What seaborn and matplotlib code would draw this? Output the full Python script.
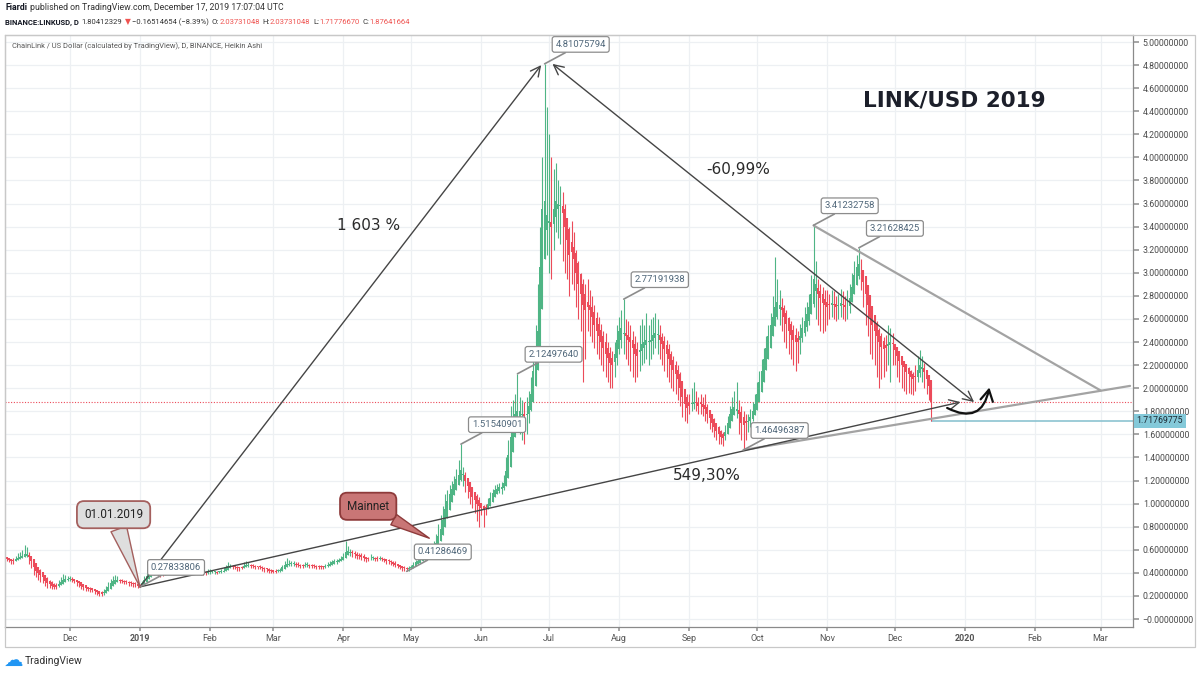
import matplotlib
matplotlib.use("Agg")
import matplotlib.dates as mdates
import matplotlib.pyplot as plt
import matplotlib.transforms as mtransforms
import numpy as np
import pandas as pd
import seaborn as sns
from matplotlib.patches import FancyArrowPatch, Rectangle

# Daily Heikin Ashi candles, BINANCE:LINKUSD, 2 Nov 2018 - 17 Dec 2019
START_DATE = "2018-11-02"
FIRST_OPEN = 0.54

ha_close = [
    # Nov 2018
    0.53, 0.52, 0.51, 0.50, 0.50, 0.52, 0.53, 0.54, 0.55, 0.56, 0.56,
    0.54, 0.50, 0.45, 0.42, 0.40, 0.38, 0.36, 0.33, 0.31, 0.30, 0.29, 0.28, 0.28,
    0.30, 0.32, 0.34, 0.35, 0.35,
    # Dec 2018
    0.35, 0.34, 0.33, 0.32, 0.31, 0.29, 0.28, 0.27, 0.26, 0.26, 0.25, 0.24, 0.23, 0.22,
    0.22, 0.23, 0.25, 0.28, 0.31, 0.33, 0.34, 0.34, 0.33, 0.33, 0.32, 0.32, 0.31, 0.31,
    0.30, 0.30, 0.29,
    # Jan 2019
    0.29, 0.31, 0.34, 0.37, 0.39, 0.40, 0.41, 0.41, 0.40, 0.39, 0.39, 0.40, 0.41, 0.42,
    0.43, 0.43, 0.42, 0.42, 0.43, 0.44, 0.44, 0.43, 0.43, 0.42, 0.42, 0.41, 0.41, 0.40,
    0.40, 0.40, 0.41,
    # Feb
    0.41, 0.41, 0.41, 0.40, 0.41, 0.41, 0.42, 0.44, 0.46, 0.46, 0.45, 0.45, 0.44, 0.44,
    0.44, 0.46, 0.47, 0.47, 0.46, 0.46, 0.45, 0.45, 0.45, 0.44, 0.43, 0.43, 0.42, 0.42,
    # Mar
    0.41, 0.41, 0.42, 0.42, 0.45, 0.47, 0.48, 0.48, 0.48, 0.48, 0.47, 0.47, 0.46, 0.46,
    0.47, 0.47, 0.46, 0.46, 0.46, 0.45, 0.45, 0.45, 0.45, 0.46, 0.47, 0.48, 0.49, 0.50,
    0.50, 0.51, 0.52,
    # Apr
    0.54, 0.58, 0.59, 0.58, 0.57, 0.56, 0.55, 0.55, 0.54, 0.53, 0.52, 0.52, 0.53, 0.53,
    0.52, 0.52, 0.53, 0.52, 0.51, 0.50, 0.50, 0.49, 0.48, 0.47, 0.46, 0.45, 0.44, 0.44,
    0.43, 0.44,
    # May
    0.45, 0.47, 0.49, 0.50, 0.51, 0.52, 0.53, 0.55, 0.57, 0.59, 0.62, 0.66, 0.72, 0.78,
    0.86, 0.95, 1.02, 1.08, 1.13, 1.17, 1.21, 1.25, 1.29, 1.25, 1.20, 1.15, 1.10, 1.06,
    1.03, 1.00, 0.98,
    # Jun
    0.96, 0.95, 0.96, 1.00, 1.05, 1.09, 1.12, 1.13, 1.14, 1.14, 1.18, 1.28, 1.42, 1.58,
    1.70, 1.78, 1.80, 1.80, 1.78, 1.76, 1.78, 1.85, 1.95, 2.15, 2.30, 2.50, 3.05, 3.55,
    3.62, 3.50,
    # Jul
    3.45, 3.40, 3.55, 3.62, 3.60, 3.58, 3.52, 3.40, 3.28, 3.15, 3.18, 3.12, 3.00, 2.90,
    2.82, 2.72, 2.68, 2.70, 2.68, 2.62, 2.55, 2.50, 2.45, 2.40, 2.35, 2.30, 2.26, 2.22,
    2.20, 2.30, 2.42,
    # Aug
    2.50, 2.52, 2.48, 2.45, 2.42, 2.40, 2.35, 2.30, 2.28, 2.33, 2.38, 2.40, 2.42, 2.40,
    2.42, 2.46, 2.48, 2.47, 2.42, 2.38, 2.34, 2.30, 2.25, 2.20, 2.16, 2.12, 2.08, 2.00,
    1.92, 1.86, 1.83,
    # Sep
    1.85, 1.87, 1.88, 1.87, 1.85, 1.86, 1.84, 1.82, 1.78, 1.74, 1.70, 1.66, 1.63, 1.60,
    1.58, 1.57, 1.62, 1.70, 1.78, 1.82, 1.84, 1.82, 1.78, 1.70, 1.68, 1.70, 1.72, 1.75,
    1.80, 1.86,
    # Oct
    1.95, 2.05, 2.15, 2.25, 2.35, 2.45, 2.55, 2.62, 2.70, 2.75, 2.72, 2.68, 2.62, 2.56,
    2.50, 2.46, 2.42, 2.40, 2.40, 2.45, 2.52, 2.58, 2.64, 2.70, 2.82, 2.95, 2.90, 2.82,
    2.78, 2.74, 2.72,
    # Nov
    2.70, 2.72, 2.74, 2.72, 2.70, 2.72, 2.74, 2.72, 2.70, 2.72, 2.78, 2.88, 2.98, 3.05,
    3.08, 3.02, 2.92, 2.82, 2.72, 2.62, 2.55, 2.50, 2.45, 2.40, 2.36, 2.34, 2.35, 2.38,
    2.40, 2.38,
    # Dec (to the 17th)
    2.33, 2.28, 2.24, 2.20, 2.18, 2.14, 2.12, 2.10, 2.08, 2.10, 2.16, 2.20, 2.18, 2.14,
    2.08, 2.02, 1.8764,
]

day_high = [
    # Nov 2018
    0.55, 0.54, 0.53, 0.52, 0.53, 0.55, 0.57, 0.58, 0.60, 0.64, 0.62,
    0.58, 0.55, 0.50, 0.47, 0.45, 0.43, 0.41, 0.38, 0.36, 0.34, 0.33, 0.31, 0.31,
    0.34, 0.36, 0.39, 0.38, 0.37,
    # Dec 2018
    0.37, 0.36, 0.35, 0.34, 0.33, 0.31, 0.30, 0.29, 0.28, 0.28, 0.27, 0.26, 0.25, 0.24,
    0.24, 0.26, 0.29, 0.32, 0.35, 0.37, 0.38, 0.37, 0.35, 0.35, 0.34, 0.34, 0.33, 0.33,
    0.32, 0.32, 0.31,
    # Jan 2019
    0.30, 0.33, 0.37, 0.40, 0.42, 0.43, 0.44, 0.43, 0.42, 0.41, 0.41, 0.42, 0.44, 0.47,
    0.52, 0.47, 0.45, 0.44, 0.47, 0.52, 0.48, 0.45, 0.45, 0.44, 0.44, 0.43, 0.43, 0.42,
    0.42, 0.42, 0.43,
    # Feb
    0.43, 0.42, 0.42, 0.42, 0.42, 0.43, 0.45, 0.47, 0.49, 0.48, 0.47, 0.46, 0.46, 0.45,
    0.46, 0.49, 0.50, 0.49, 0.48, 0.48, 0.47, 0.46, 0.47, 0.46, 0.45, 0.44, 0.44, 0.43,
    # Mar
    0.42, 0.43, 0.43, 0.44, 0.47, 0.50, 0.53, 0.51, 0.50, 0.50, 0.49, 0.49, 0.48, 0.48,
    0.49, 0.49, 0.48, 0.48, 0.48, 0.47, 0.47, 0.47, 0.46, 0.48, 0.49, 0.50, 0.51, 0.52,
    0.52, 0.53, 0.55,
    # Apr
    0.57, 0.68, 0.63, 0.61, 0.60, 0.59, 0.58, 0.57, 0.57, 0.56, 0.54, 0.54, 0.56, 0.55,
    0.54, 0.55, 0.55, 0.54, 0.53, 0.52, 0.52, 0.51, 0.50, 0.50, 0.48, 0.47, 0.46, 0.46,
    0.45, 0.46,
    # May
    0.47, 0.49, 0.51, 0.52, 0.53, 0.54, 0.56, 0.58, 0.60, 0.63, 0.68, 0.74, 0.82, 0.90,
    0.98, 1.08, 1.12, 1.16, 1.20, 1.24, 1.30, 1.38, 1.5154, 1.32, 1.27, 1.22, 1.18, 1.14,
    1.10, 1.08, 1.06,
    # Jun
    1.00, 0.99, 1.00, 1.05, 1.10, 1.13, 1.16, 1.17, 1.18, 1.19, 1.25, 1.40, 1.55, 1.85,
    1.90, 1.95, 2.125, 1.92, 1.90, 1.88, 1.92, 1.98, 2.10, 2.30, 2.55, 2.90, 3.40, 4.00,
    4.8108, 4.44,
    # Jul
    4.20, 4.00, 3.90, 3.95, 3.80, 3.75, 3.70, 3.60, 3.45, 3.40, 3.45, 3.35, 3.20, 3.10,
    3.00, 2.95, 2.90, 2.95, 2.85, 2.80, 2.72, 2.66, 2.62, 2.56, 2.50, 2.48, 2.40, 2.36,
    2.32, 2.40, 2.55,
    # Aug
    2.62, 2.68, 2.7719, 2.60, 2.58, 2.55, 2.50, 2.45, 2.40, 2.55, 2.60, 2.55, 2.65, 2.55,
    2.60, 2.62, 2.65, 2.60, 2.55, 2.48, 2.45, 2.42, 2.38, 2.32, 2.28, 2.24, 2.20, 2.14,
    2.05, 1.98, 1.95,
    # Sep
    1.95, 2.00, 2.05, 1.98, 1.92, 1.95, 1.92, 1.95, 1.86, 1.80, 1.78, 1.74, 1.70, 1.67,
    1.64, 1.62, 1.68, 1.76, 1.85, 1.92, 1.98, 2.05, 1.90, 1.85, 1.80, 1.78, 1.78, 1.82,
    1.88, 1.95,
    # Oct
    2.05, 2.15, 2.25, 2.35, 2.45, 2.55, 2.65, 2.80, 3.14, 2.95, 2.85, 2.78, 2.72, 2.68,
    2.62, 2.58, 2.55, 2.52, 2.50, 2.56, 2.62, 2.70, 2.75, 2.82, 2.98, 3.4123, 3.10, 2.95,
    2.90, 2.88, 2.85,
    # Nov
    2.85, 2.82, 2.85, 2.84, 2.80, 2.82, 2.86, 2.84, 2.80, 2.85, 2.90, 3.00, 3.10, 3.15,
    3.2163, 3.12, 3.02, 2.92, 2.82, 2.72, 2.65, 2.62, 2.58, 2.52, 2.48, 2.44, 2.46, 2.55,
    2.52, 2.48,
    # Dec
    2.38, 2.34, 2.30, 2.26, 2.24, 2.20, 2.18, 2.16, 2.14, 2.20, 2.28, 2.33, 2.28, 2.22,
    2.16, 2.10, 2.00,
]

day_low = [
    # Nov 2018
    0.51, 0.50, 0.49, 0.48, 0.48, 0.50, 0.51, 0.52, 0.53, 0.54, 0.54,
    0.48, 0.44, 0.38, 0.36, 0.34, 0.32, 0.31, 0.29, 0.27, 0.27, 0.26, 0.26, 0.26,
    0.28, 0.30, 0.32, 0.33, 0.33,
    # Dec 2018
    0.33, 0.32, 0.31, 0.29, 0.28, 0.26, 0.25, 0.24, 0.24, 0.23, 0.23, 0.22, 0.21, 0.20,
    0.20, 0.21, 0.23, 0.26, 0.29, 0.31, 0.32, 0.32, 0.31, 0.31, 0.30, 0.30, 0.29, 0.29,
    0.28, 0.28, 0.27,
    # Jan 2019
    0.2783, 0.29, 0.32, 0.35, 0.37, 0.38, 0.39, 0.39, 0.37, 0.36, 0.37, 0.38, 0.39, 0.40,
    0.41, 0.41, 0.40, 0.40, 0.41, 0.42, 0.42, 0.41, 0.41, 0.40, 0.40, 0.39, 0.39, 0.38,
    0.38, 0.38, 0.39,
    # Feb
    0.39, 0.40, 0.39, 0.39, 0.40, 0.40, 0.41, 0.42, 0.44, 0.44, 0.43, 0.43, 0.42, 0.42,
    0.43, 0.44, 0.45, 0.45, 0.44, 0.44, 0.43, 0.43, 0.43, 0.42, 0.41, 0.41, 0.40, 0.40,
    # Mar
    0.40, 0.40, 0.41, 0.41, 0.43, 0.45, 0.46, 0.46, 0.46, 0.46, 0.45, 0.45, 0.44, 0.44,
    0.45, 0.45, 0.44, 0.44, 0.44, 0.43, 0.43, 0.43, 0.43, 0.44, 0.45, 0.46, 0.47, 0.48,
    0.48, 0.49, 0.50,
    # Apr
    0.52, 0.54, 0.56, 0.55, 0.54, 0.53, 0.52, 0.52, 0.51, 0.50, 0.49, 0.50, 0.51, 0.51,
    0.50, 0.50, 0.51, 0.50, 0.49, 0.48, 0.48, 0.47, 0.46, 0.45, 0.44, 0.43, 0.42, 0.42,
    0.4129, 0.42,
    # May
    0.43, 0.45, 0.47, 0.48, 0.49, 0.50, 0.51, 0.53, 0.55, 0.57, 0.59, 0.62, 0.67, 0.72,
    0.80, 0.88, 0.95, 1.00, 1.05, 1.10, 1.14, 1.18, 1.20, 1.15, 1.10, 1.05, 1.00, 0.96,
    0.92, 0.85, 0.80,
    # Jun
    0.90, 0.80, 0.90, 0.95, 1.00, 1.04, 1.07, 1.08, 1.09, 1.08, 1.12, 1.20, 1.30, 1.45,
    1.55, 1.62, 1.65, 1.60, 1.55, 1.52, 1.60, 1.70, 1.80, 1.95, 2.10, 2.30, 2.60, 3.00,
    3.20, 3.15,
    # Jul
    3.00, 2.95, 3.20, 3.35, 3.30, 3.25, 3.10, 3.00, 2.95, 2.80, 2.90, 2.85, 2.70, 2.60,
    2.50, 2.05, 2.25, 2.50, 2.45, 2.40, 2.35, 2.30, 2.25, 2.20, 2.15, 2.10, 2.05, 2.00,
    2.00, 2.10, 2.20,
    # Aug
    2.30, 2.35, 2.30, 2.25, 2.20, 2.15, 2.10, 2.05, 2.10, 2.15, 2.20, 2.22, 2.25, 2.20,
    2.25, 2.30, 2.35, 2.30, 2.25, 2.20, 2.15, 2.10, 2.05, 2.00, 1.98, 1.95, 1.90, 1.85,
    1.75, 1.72, 1.70,
    # Sep
    1.78, 1.80, 1.82, 1.80, 1.78, 1.78, 1.76, 1.72, 1.70, 1.65, 1.62, 1.58, 1.55, 1.52,
    1.52, 1.50, 1.55, 1.62, 1.70, 1.76, 1.78, 1.74, 1.60, 1.55, 1.465, 1.55, 1.62, 1.66,
    1.72, 1.78,
    # Oct
    1.85, 1.95, 2.05, 2.15, 2.25, 2.35, 2.45, 2.50, 2.58, 2.60, 2.55, 2.50, 2.40, 2.35,
    2.30, 2.25, 2.20, 2.15, 2.22, 2.30, 2.40, 2.45, 2.50, 2.55, 2.65, 2.70, 2.60, 2.55,
    2.50, 2.48, 2.50,
    # Nov
    2.55, 2.60, 2.62, 2.60, 2.58, 2.60, 2.62, 2.60, 2.58, 2.60, 2.65, 2.75, 2.85, 2.95,
    2.95, 2.85, 2.70, 2.55, 2.45, 2.30, 2.25, 2.20, 2.10, 2.00, 2.08, 2.10, 2.15, 2.20,
    2.05, 2.20,
    # Dec
    2.20, 2.10, 2.05, 2.00, 1.98, 1.95, 1.96, 1.95, 1.94, 1.98, 2.05, 2.10, 2.05, 2.00,
    1.95, 1.90, 1.7177,
]

# labelled highs / lows (TradingView price labels)
pivot_dates = ["2019-01-01", "2019-04-29", "2019-05-23", "2019-06-17", "2019-06-29",
               "2019-08-03", "2019-09-25", "2019-10-26", "2019-11-15"]
pivot_prices = [0.27833806, 0.41286469, 1.51540901, 2.12497640, 4.81075794,
                2.77191938, 1.46496387, 3.41232758, 3.21628425]

last_close = 1.87641664
last_low = 1.71769775

# hand-drawn trend lines: (date, price) pairs
rise_line = [("2019-01-01", 0.2783), ("2019-06-27 12:00", 4.80)]
fall_line = [("2019-07-02 12:00", 4.81), ("2020-01-05", 1.88)]
base_line = [("2019-01-01", 0.2783), ("2019-12-30", 1.88)]
support_line = [("2019-09-25", 1.465), ("2020-03-14", 2.02)]
resist_line = [("2019-10-26", 3.41), ("2020-03-01", 1.98)]
bounce_arrow = [("2019-12-23", 1.84), ("2020-01-12", 2.03)]
mainnet_point = ("2019-05-09", 0.70)

GREEN = "#4fb585"
RED = "#ec4b5a"
DARK = "#131722"


def num(d):
    return mdates.date2num(pd.Timestamp(d))


sns.set_theme(style="white")
plt.rcParams["font.family"] = ["Roboto", "DejaVu Sans"]

dates = mdates.date2num(pd.date_range(START_DATE, periods=len(ha_close), freq="D"))
close = np.array(ha_close)
ha_open = np.empty_like(close)
ha_open[0] = FIRST_OPEN
for i in range(1, len(close)):
    ha_open[i] = (ha_open[i - 1] + close[i - 1]) / 2
ha_high = np.maximum.reduce([np.array(day_high), ha_open, close])
ha_low = np.minimum.reduce([np.array(day_low), ha_open, close])
up = close >= ha_open
colors = np.where(up, GREEN, RED)

fig = plt.figure(figsize=(12, 6.75), dpi=100)
ax = fig.add_axes([5 / 1200, 48 / 675, 1128 / 1200, 592 / 675])

jan1 = num("2019-01-01")
ax.set_xlim(jan1 - 59.7, jan1 + 439.3)
ax.set_ylim(-0.0693, 5.0607)

# candles
ax.vlines(dates, ha_low, ha_high, colors=colors, linewidth=0.8, zorder=3)
ax.bar(dates, np.maximum(np.abs(close - ha_open), 0.008), bottom=np.minimum(close, ha_open),
       width=0.88, color=colors, linewidth=0, zorder=3)

# last price line and low ray
ax.axhline(last_close, color=RED, lw=0.8, ls=(0, (1, 1.5)), zorder=2)
ax.hlines(last_low, dates[-1], ax.get_xlim()[1], color="#8cc3d1", lw=1.2, zorder=2)


# trend lines
def arrow(p0, p1, style, color="#454545", lw=1.0):
    ax.add_patch(FancyArrowPatch((num(p0[0]), p0[1]), (num(p1[0]), p1[1]), arrowstyle=style,
                                 mutation_scale=10, color=color, lw=lw, shrinkA=0, shrinkB=0,
                                 zorder=5))


head = "->,head_length=0.7,head_width=0.35"
arrow(*rise_line, head)
arrow(*fall_line, "<->,head_length=0.7,head_width=0.35")
arrow(*base_line, head)
for line in (support_line, resist_line):
    sns.lineplot(x=[num(d) for d, _ in line], y=[p for _, p in line], ax=ax,
                 color="#a3a3a3", linewidth=1.6, zorder=4)
ax.add_patch(FancyArrowPatch((num(bounce_arrow[0][0]), bounce_arrow[0][1]),
                             (num(bounce_arrow[1][0]), bounce_arrow[1][1]),
                             connectionstyle="arc3,rad=0.7",
                             arrowstyle="->,head_length=0.8,head_width=0.45",
                             mutation_scale=10, color="#111111", lw=1.6, zorder=6))

# price labels
for d, p in zip(pivot_dates, pivot_prices):
    ax.annotate(f"{p:.8f}", xy=(num(d), p), xytext=(26, 14), textcoords="offset points",
                fontsize=6.8, color="#50677a", ha="center", va="center", zorder=7,
                bbox=dict(boxstyle="round,pad=0.35,rounding_size=0.25", fc="white",
                          ec="#8c8c8c", lw=0.9),
                arrowprops=dict(arrowstyle="-", color="#8c8c8c", lw=1.2,
                                shrinkA=0, shrinkB=0))

# callouts
ax.annotate("01.01.2019", xy=(jan1, 0.2783), xytext=(-19, 52), textcoords="offset points",
            fontsize=8.5, color="#222222", ha="center", va="center", zorder=8,
            bbox=dict(boxstyle="round,pad=0.6", fc="#dedede", ec="#a4605e", lw=1.3),
            arrowprops=dict(arrowstyle="wedge,tail_width=1.4", fc="#dedede", ec="#a4605e",
                            lw=1.0, shrinkA=0, shrinkB=0))
ax.annotate("Mainnet", xy=(num(mainnet_point[0]), mainnet_point[1]), xytext=(-44, 23),
            textcoords="offset points", fontsize=8.5, color="#222222", ha="center",
            va="center", zorder=8,
            bbox=dict(boxstyle="round,pad=0.6", fc="#c97676", ec="#8e3b3b", lw=1.3),
            arrowprops=dict(arrowstyle="wedge,tail_width=1.0", fc="#c97676", ec="#8e3b3b",
                            lw=1.0, shrinkA=0, shrinkB=0))

# free text
ax.text(0.842, 0.890, "LINK/USD 2019", transform=ax.transAxes, ha="center", va="center",
        fontsize=15.5, fontweight="bold", color="#1c1f2a", family="DejaVu Sans")
for x, y, s in [(0.3227, 0.6774, "1 603 %"), (0.6498, 0.772, "-60,99%"),
                (0.6223, 0.2551, "549,30%")]:
    ax.text(x, y, s, transform=ax.transAxes, ha="center", va="center", fontsize=11,
            color="#2a2a2a", family="DejaVu Sans")
ax.text(0.006, 0.981, "ChainLink / US Dollar (calculated by TradingView), D, BINANCE, Heikin Ashi",
        transform=ax.transAxes, ha="left", va="center", fontsize=5.4, color="#555555")

# axes cosmetics
months = pd.date_range("2018-12-01", "2020-03-01", freq="MS")
month_labels = [str(m.year) if m.month == 1 else m.strftime("%b") for m in months]
ax.set_xticks(mdates.date2num(months), month_labels)
for lbl in ax.get_xticklabels():
    if lbl.get_text() in ("2019", "2020"):
        lbl.set_fontweight("bold")
y_ticks = np.round(np.arange(0, 5.01, 0.2), 1)
y_labels = [f"{v:.8f}" for v in y_ticks]
y_labels[0] = "\u22120.00000000"
ax.yaxis.tick_right()
ax.set_yticks(y_ticks, y_labels)
ax.tick_params(axis="y", right=True, left=False, length=4, color="#9a9a9a", labelsize=6.3,
               labelcolor="#4a4a4a", pad=3)
ax.tick_params(axis="x", bottom=True, length=3, color="#9a9a9a", labelsize=6.5,
               labelcolor="#555555", pad=2)
ax.grid(True, color="#edf0f3", lw=0.9)
ax.set_axisbelow(True)
ax.set_xlabel("")
ax.set_ylabel("")
for side in ("top", "left"):
    ax.spines[side].set_color("#c8c8c8")
for side in ("right", "bottom"):
    ax.spines[side].set_color("#8a8a8a")
for sp in ax.spines.values():
    sp.set_linewidth(0.9)

blend = mtransforms.blended_transform_factory(ax.transAxes, ax.transData)
ax.text(1.003, last_low, f"{last_low:.8f}", transform=blend, ha="left", va="center",
        fontsize=6.3, color="#1d2a33", zorder=9, clip_on=False,
        bbox=dict(boxstyle="square,pad=0.3", fc="#84c9d9", ec="none"))

fig.add_artist(Rectangle((5 / 1200, 28 / 675), 1190 / 1200, 612 / 675,
                         transform=fig.transFigure, fill=False, ec="#c8c8c8", lw=0.9))

# header lines
renderer = fig.canvas.get_renderer()


def write_pieces(x, y, pieces, size):
    for text, color, weight, gap in pieces:
        t = fig.text(x, y, text, color=color, fontweight=weight, fontsize=size,
                     ha="left", va="center")
        x += (t.get_window_extent(renderer).width + gap) / fig.bbox.width


write_pieces(5 / 1200, 1 - 8 / 675, [
    ("Fiardi", DARK, "bold", 3),
    ("published on TradingView.com, December 17, 2019 17:07:04 UTC", "#333333", "normal", 0),
], 6.3)
write_pieces(5 / 1200, 1 - 22 / 675, [
    ("BINANCE:LINKUSD, D", DARK, "bold", 3),
    ("1.80412329", "#333333", "normal", 2),
    ("\u25bc", "#ef5350", "normal", 2),
    ("\u22120.16514654 (\u22128.39%)", "#333333", "normal", 2),
    ("O:", "#333333", "normal", 0.5),
    ("2.03731048", "#ef5350", "normal", 2.5),
    ("H:", "#333333", "normal", 0.5),
    ("2.03731048", "#ef5350", "normal", 2.5),
    ("L:", "#333333", "normal", 0.5),
    ("1.71776670", "#ef5350", "normal", 2.5),
    ("C:", "#333333", "normal", 0.5),
    ("1.87641664", "#ef5350", "normal", 0),
], 5.5)

# footer logo
fig.text(4 / 1200, 1 - 660 / 675, "\u2601", color="#2196f3", fontsize=14,
         family="DejaVu Sans", ha="left", va="center")
fig.text(25 / 1200, 1 - 661 / 675, "TradingView", color="#333333", fontsize=7.5,
         ha="left", va="center")

fig.savefig("out.png", dpi=100)
